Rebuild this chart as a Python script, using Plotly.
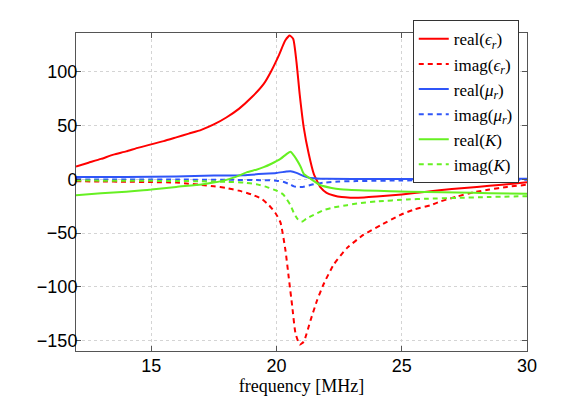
import plotly.graph_objects as go

# frequency [MHz] / value pairs, one pair of lists per curve
f_eps_re = [12, 12.5, 13, 13.5, 14, 14.5, 15, 15.5, 16, 16.5, 17, 17.5, 18, 18.5, 19, 19.5, 19.8,
            20.1, 20.35, 20.53, 20.67, 20.8, 20.93, 21.09, 21.29, 21.49, 21.76, 22.0, 22.29, 22.6,
            22.95, 23.5, 24, 25, 26, 27, 28, 29, 30]
eps_re = [12, 15.5, 19, 23, 26, 29.5, 32.5, 35.5, 39, 42.5, 46, 51, 57.5, 65.5, 76, 89, 101,
          115.5, 129, 133.6, 130.5, 109, 78.5, 48, 23.5, 5.1, -7.5, -12.5, -15, -16.5,
          -17, -16.8, -16, -14, -11.5, -9, -7, -5, -2.8]

f_eps_im = [12, 13, 14, 15, 16, 16.5, 17, 17.5, 18, 18.5, 19, 19.4, 19.7, 19.95, 20.16, 20.36,
            20.49, 20.63, 20.76, 20.93, 21.09, 21.36, 21.62, 21.89, 22.29, 22.82, 23.48, 24.15,
            24.95, 25.5, 26.15, 26.55, 27.2, 27.88, 28.5, 29.2, 30]
eps_im = [-1.8, -2, -2.2, -2.5, -3, -4, -5.2, -6.5, -8, -10.5, -14, -18, -24, -31, -40, -66,
          -91, -118, -143, -153.5, -150.8, -131, -112.6, -97, -79, -63.7, -51.4, -42.8,
          -33, -28, -24, -20.5, -16, -12, -9.5, -7, -5]

f_mu_re = [12, 14, 16, 17.5, 18.67, 19.49, 20, 20.4, 20.56, 20.8, 21.09, 21.3, 21.6, 22, 24, 26, 28, 30]
mu_re = [2.1, 2.3, 2.6, 3.5, 3.9, 5.1, 6, 7.2, 7.5, 6, 3, 1.5, 0.8, 0.5, 0.3, 0.3, 0.4, 0.5]

f_mu_im = [12, 16, 18, 19.5, 20, 20.3, 20.53, 20.7, 20.85, 21.05, 21.23, 21.5, 21.89, 22.5, 23.2,
           25, 27, 30]
mu_im = [0, -0.2, -0.4, -0.8, -1.2, -2.5, -4.6, -6.5, -7.2, -7, -6.1, -4.5, -3.1, -2, -1.6,
         -1, -0.7, -0.4]

f_k_re = [12, 13, 14, 14.68, 15, 16, 17, 17.5, 18, 18.5, 18.83, 19.2, 19.49, 19.8, 20.16, 20.4,
          20.56, 20.7, 20.83, 20.96, 21.09, 21.36, 21.76, 22.2, 22.55, 23.5, 24.55, 26, 27.2,
          28.5, 30]
k_re = [-14.7, -13, -11.5, -10.1, -9.5, -7, -4.8, -3, -0.5, 3.5, 6.7, 9, 11.3, 14.5, 19, 23.5,
        25.7, 22, 17.4, 12, 5.1, 0.6, -5.5, -8, -9.2, -10.3, -11, -11.8, -12.3, -12.8, -13.3]

f_k_im = [12, 13, 14, 15, 16, 17, 18, 18.7, 19.2, 19.6, 20, 20.27, 20.56, 20.69, 20.85, 21.0,
          21.2, 21.49, 21.89, 22.3, 22.82, 23.22, 24, 25.22, 26, 27.2, 28.5, 30]
k_im = [-1, -1.2, -1.3, -1.4, -1.5, -1.8, -2.3, -3, -4.5, -7, -10.5, -14, -24, -31, -37, -39.5,
        -36.5, -33, -28.5, -26, -24, -22.4, -20.5, -18.7, -18, -17.2, -16.4, -15.6]

RED = "#ff0000"
BLUE = "#2f55f8"
GREEN = "#66f022"
DASH = "5px,4px"

series = [
    ("real(<i>ϵ</i><sub><i>r</i></sub>)", f_eps_re, eps_re, RED, "solid"),
    ("imag(<i>ϵ</i><sub><i>r</i></sub>)", f_eps_im, eps_im, RED, DASH),
    ("real(<i>μ</i><sub><i>r</i></sub>)", f_mu_re, mu_re, BLUE, "solid"),
    ("imag(<i>μ</i><sub><i>r</i></sub>)", f_mu_im, mu_im, BLUE, DASH),
    ("real(<i>K</i>)", f_k_re, k_re, GREEN, "solid"),
    ("imag(<i>K</i>)", f_k_im, k_im, GREEN, DASH),
]

fig = go.Figure()
for name, xs, ys, color, dash in series:
    fig.add_trace(go.Scatter(
        x=xs, y=ys, name=name, mode="lines",
        line=dict(color=color, width=2, dash=dash, shape="spline", smoothing=0.5),
    ))

axis_common = dict(
    showline=True, linecolor="#555555", linewidth=1, mirror="ticks",
    ticks="inside", ticklen=5, tickcolor="#555555",
    showgrid=True, gridcolor="#d4d4d4", griddash="dot", gridwidth=1,
    zeroline=False, automargin=False,
    tickfont=dict(family="Liberation Sans, Arial, sans-serif", size=18, color="black"),
)

fig.update_xaxes(range=[12, 30], tick0=0, dtick=5, ticklabelstandoff=-2, **axis_common,
                 title=dict(text="frequency [MHz]", standoff=0,
                            font=dict(family="Liberation Serif, serif", size=18, color="black")))
fig.update_yaxes(range=[-159.5, 136], tickvals=[-150, -100, -50, 0, 50, 100],
                 ticklabelstandoff=-6, **axis_common)

# page body adds an 8px offset, so margins are shifted to land the plot box where the reference has it
fig.update_layout(
    width=581, height=396,
    margin=dict(l=68, r=62, t=21, b=53),
    plot_bgcolor="white", paper_bgcolor="white",
    showlegend=True,
    legend=dict(
        x=0.7467, y=1.04, xanchor="left", yanchor="top",
        bgcolor="white", bordercolor="#333333", borderwidth=1,
        font=dict(family="Liberation Serif, DejaVu Serif, serif", size=17, color="black"),
        itemwidth=30,
    ),
)

fig.write_html("out.html")
